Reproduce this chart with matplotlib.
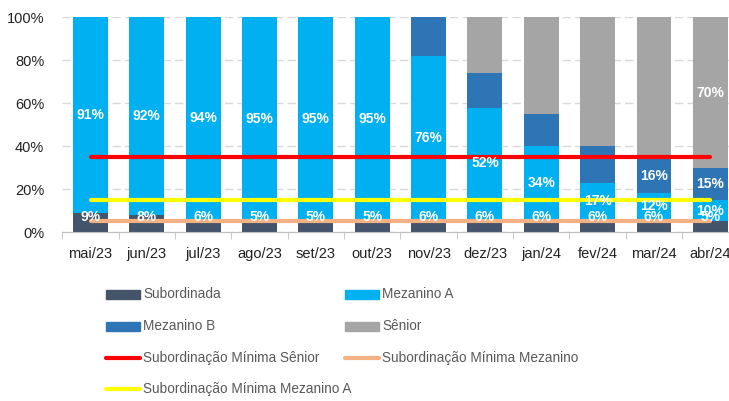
import numpy as np
import matplotlib
matplotlib.use('Agg')
import matplotlib.pyplot as plt
from matplotlib import font_manager
from matplotlib.patches import Rectangle
from matplotlib.lines import Line2D

# pick a narrow font if there is one
names = set(f.name for f in font_manager.fontManager.ttflist)
fam = 'Liberation Sans Narrow' if 'Liberation Sans Narrow' in names else 'Liberation Sans'
plt.rcParams['font.family'] = [fam, 'DejaVu Sans']

# data
months = ['mai/23', 'jun/23', 'jul/23', 'ago/23', 'set/23', 'out/23',
          'nov/23', 'dez/23', 'jan/24', 'fev/24', 'mar/24', 'abr/24']
subordinada = [9, 8, 6, 5, 5, 5, 6, 6, 6, 6, 6, 5]
mezanino_a = [91, 92, 94, 95, 95, 95, 76, 52, 34, 17, 12, 10]
mezanino_b = [0, 0, 0, 0, 0, 0, 18, 16, 15, 17, 16, 15]
senior = [0, 0, 0, 0, 0, 0, 0, 26, 45, 60, 66, 70]
min_senior = [35] * 12
min_mezanino = [5] * 12
min_mezanino_a = [15] * 12

# which segments get a label
show_b = [False] * 10 + [True, True]
show_sen = [False] * 11 + [True]

c_sub = '#44546A'
c_a = '#00B0F0'
c_b = '#2E75B6'
c_sen = '#A5A5A5'
c_red = '#FF0000'
c_org = '#F4B183'
c_yel = '#FFFF00'

fig = plt.figure(figsize=(7.29, 4.01), dpi=100)
ax = fig.add_axes([0.0855, 0.4214, 0.9276, 0.535])

x = np.arange(len(months))
w = 0.62
sub = np.array(subordinada)
ma = np.array(mezanino_a)
mb = np.array(mezanino_b)
sn = np.array(senior)

ax.bar(x, sub, w, color=c_sub, zorder=2)
ax.bar(x, ma, w, bottom=sub, color=c_a, zorder=2)
ax.bar(x, mb, w, bottom=sub + ma, color=c_b, zorder=2)
ax.bar(x, sn, w, bottom=sub + ma + mb, color=c_sen, zorder=2)

ax.plot(x, min_senior, color=c_red, lw=3, solid_capstyle='round', zorder=3)
ax.plot(x, min_mezanino, color=c_org, lw=3, solid_capstyle='round', zorder=3)
ax.plot(x, min_mezanino_a, color=c_yel, lw=3, solid_capstyle='round', zorder=3)

lbl = dict(color='white', fontweight='bold', fontsize=10, ha='center', va='center', zorder=4)
for i in range(len(months)):
    ax.text(x[i], 7, f'{sub[i]}%', **lbl)
    ax.text(x[i], sub[i] + ma[i] / 2, f'{ma[i]}%', **lbl)
    if show_b[i]:
        ax.text(x[i], sub[i] + ma[i] + mb[i] / 2, f'{mb[i]}%', **lbl)
    if show_sen[i]:
        ax.text(x[i], sub[i] + ma[i] + mb[i] + sn[i] / 2, f'{sn[i]}%', **lbl)

ax.set_xlim(-0.5, len(months) - 0.5)
ax.set_ylim(0, 100)
ax.set_yticks(range(0, 101, 20))
ax.set_yticklabels([f'{v}%' for v in range(0, 101, 20)])
ax.yaxis.grid(True, color='#D9D9D9', ls=(0, (6, 3)), lw=1, zorder=0)
ax.set_xticks(x)
ax.set_xticklabels(months)
ax.set_xticks(np.arange(-0.5, len(months), 1), minor=True)
ax.tick_params(axis='x', which='major', length=0, labelsize=10.5, pad=11, colors='#222222')
ax.tick_params(axis='x', which='minor', length=5, color='#BFBFBF')
ax.tick_params(axis='y', length=0, labelsize=10.5, pad=13, colors='#222222')
for s in ['top', 'right', 'left']:
    ax.spines[s].set_visible(False)
ax.spines['bottom'].set_color('#BFBFBF')

# legend, laid out by hand below the plot
W, H = 729.0, 401.0
items = [
    ('rect', c_sub, 'Subordinada', 106, 294),
    ('rect', c_a, 'Mezanino A', 345, 294),
    ('rect', c_b, 'Mezanino B', 106, 326),
    ('rect', c_sen, 'Sênior', 345, 326),
    ('line', c_red, 'Subordinação Mínima Sênior', 106, 358),
    ('line', c_org, 'Subordinação Mínima Mezanino', 345, 358),
    ('line', c_yel, 'Subordinação Mínima Mezanino A', 106, 389),
]
for kind, col, text, px, py in items:
    if kind == 'rect':
        fig.add_artist(Rectangle((px / W, 1 - (py + 4.5) / H), 34 / W, 9 / H,
                                 color=col, transform=fig.transFigure))
    else:
        fig.add_artist(Line2D([px / W, (px + 34) / W], [1 - py / H, 1 - py / H],
                              color=col, lw=3, solid_capstyle='round',
                              transform=fig.transFigure))
    fig.text((px + 37) / W, 1 - py / H, text, fontsize=9.8, color='#595959',
             ha='left', va='center')

fig.savefig('out.png', dpi=100)
